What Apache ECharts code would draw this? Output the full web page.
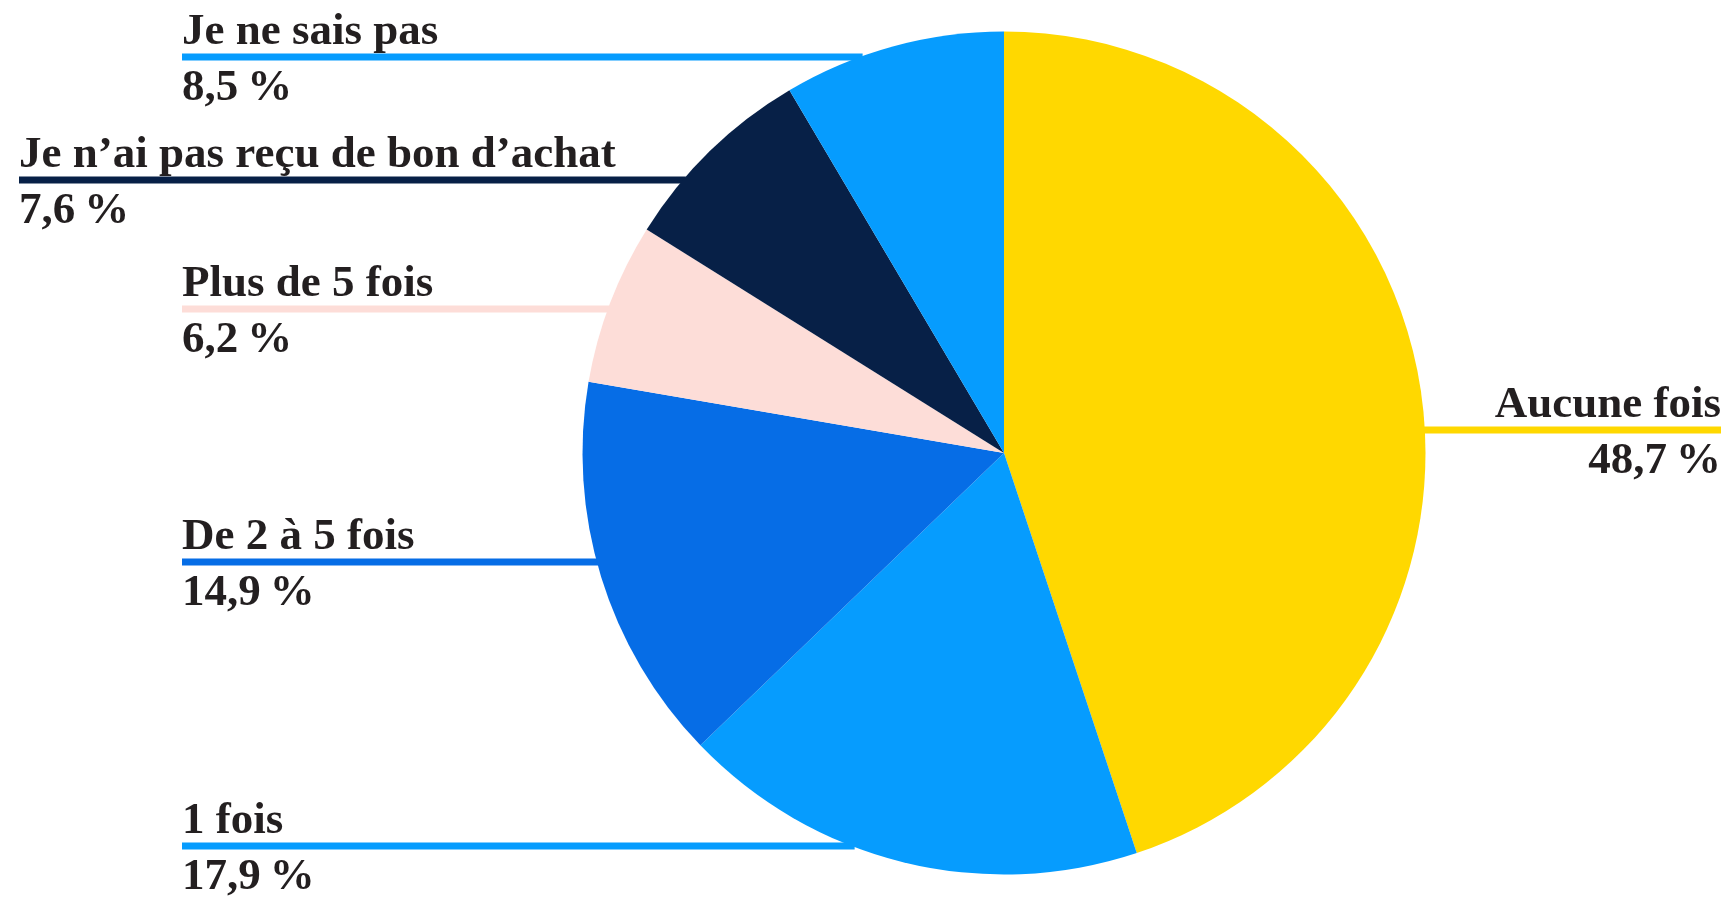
<!DOCTYPE html>
<html>
<head>
<meta charset="utf-8">
<script src="https://cdn.jsdelivr.net/npm/echarts@6/dist/echarts.min.js"></script>
<style>
html,body{margin:0;padding:0;background:#ffffff;}
#chart{width:1731px;height:898px;}
</style>
</head>
<body>
<div id="chart"></div>
<script>
// ---- data ----
const categories = ['Aucune fois', '1 fois', 'De 2 à 5 fois', 'Plus de 5 fois', 'Je n’ai pas reçu de bon d’achat', 'Je ne sais pas'];
// share of the circle each slice occupies in the picture
const sliceValues = [44.9, 17.9, 14.9, 6.2, 7.6, 8.5];
// printed labels
const printedShares = ['48,7\u202F%', '17,9\u202F%', '14,9\u202F%', '6,2\u202F%', '7,6\u202F%', '8,5\u202F%'];
const sliceColors = ['#FFD800', '#069CFE', '#066DE6', '#FDDDD8', '#072047', '#069CFE'];

// ---- layout (not data) ----
const CX = 1004, CY = 453, R = 421.5;
const labelSpec = [
  { lineY: 430, x: 1721, align: 'right' },
  { lineY: 846, x: 182, align: 'left' },
  { lineY: 562, x: 182, align: 'left' },
  { lineY: 309, x: 182, align: 'left' },
  { lineY: 180, x: 19, align: 'left' },
  { lineY: 57, x: 182, align: 'left' }
];

const nameStyle = {
  fontFamily: '"Liberation Serif", "DejaVu Serif", serif',
  fontWeight: 'bold',
  fontSize: 45,
  lineHeight: 52,
  color: '#231f20'
};
const valueStyle = Object.assign({}, nameStyle, { lineHeight: 52, padding: [8, 0, 0, 0] });

const chart = echarts.init(document.getElementById('chart'), null, { renderer: 'canvas' });

chart.setOption({
  backgroundColor: '#ffffff',
  animation: false,
  series: [{
    type: 'pie',
    center: [CX, CY],
    radius: R,
    startAngle: 90,
    clockwise: true,
    avoidLabelOverlap: false,
    itemStyle: { borderWidth: 0 },
    emphasis: { disabled: true },
    label: {
      show: true,
      position: 'outside',
      formatter: function (p) {
        return '{n|' + categories[p.dataIndex] + '}\n{v|' + printedShares[p.dataIndex] + '}';
      },
      rich: { n: nameStyle, v: valueStyle }
    },
    labelLine: {
      show: true,
      length: 10,
      length2: 10,
      lineStyle: { width: 7, cap: 'butt' }
    },
    labelLayout: function (params) {
      const s = labelSpec[params.dataIndex];
      const dy = s.lineY - CY;
      const dx = Math.sqrt(R * R - dy * dy);
      const edgeX = s.align === 'right' ? CX + dx - 3 : CX - dx + 3;
      return {
        x: s.x,
        y: s.lineY - 51,
        align: s.align,
        verticalAlign: 'top',
        labelLinePoints: [[edgeX, s.lineY], [edgeX, s.lineY], [s.x, s.lineY]]
      };
    },
    data: categories.map(function (name, i) {
      return {
        name: name,
        value: sliceValues[i],
        itemStyle: { color: sliceColors[i] },
        labelLine: { lineStyle: { color: sliceColors[i], width: 7, opacity: 1 } }
      };
    })
  }]
});
</script>
</body>
</html>
